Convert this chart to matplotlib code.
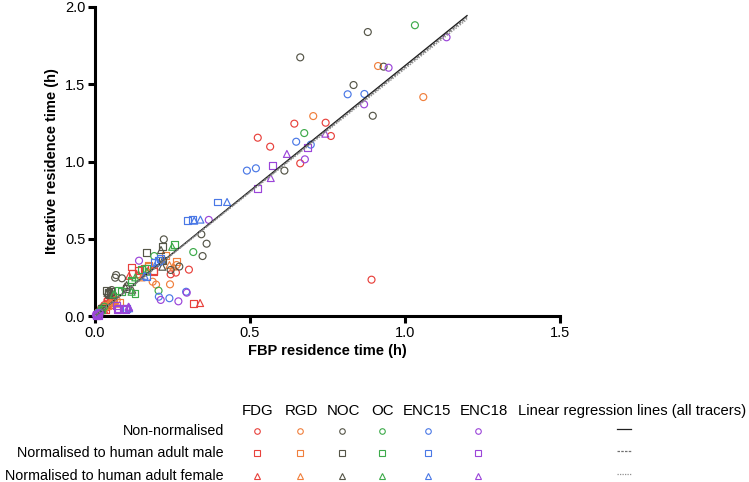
import matplotlib
matplotlib.use('Agg')
import matplotlib.pyplot as plt
import numpy as np

plt.rcParams['font.family'] = ['Liberation Sans', 'DejaVu Sans']

tracers = ['FDG', 'RGD', 'NOC', 'OC', 'ENC15', 'ENC18']
colors = ['#E8413C', '#F07F3C', '#555548', '#3DAA4A', '#4A78E6', '#9B45D9']
row_labels = ['Non-normalised', 'Normalised to human adult male', 'Normalised to human adult female']
markers = ['o', 's', '^']

# (FBP, iterative) residence times in h, per tracer and normalisation
fdg_non = [(0.525, 1.154), (0.565, 1.096), (0.643, 1.245), (0.744, 1.251), (0.761, 1.165), (0.662, 0.988),
           (0.892, 0.235), (0.303, 0.300), (0.261, 0.281), (0.244, 0.270), (0.04, 0.10), (0.03, 0.07),
           (0.02, 0.05), (0.05, 0.12), (0.01, 0.02), (0.025, 0.035), (0.045, 0.075)]
fdg_male = [(0.318, 0.082), (0.190, 0.287), (0.140, 0.293), (0.120, 0.276), (0.118, 0.317), (0.161, 0.308),
            (0.188, 0.293), (0.039, 0.091), (0.03, 0.06), (0.02, 0.04), (0.06, 0.11), (0.01, 0.02),
            (0.05, 0.085), (0.035, 0.045)]
fdg_female = [(0.339, 0.084), (0.043, 0.093), (0.035, 0.08), (0.11, 0.26), (0.14, 0.27), (0.17, 0.29),
              (0.02, 0.05), (0.06, 0.12), (0.03, 0.04), (0.055, 0.07)]

rgd_non = [(0.913, 1.618), (1.059, 1.417), (0.704, 1.294), (0.186, 0.222), (0.197, 0.203), (0.242, 0.205),
           (0.263, 0.330), (0.07, 0.104), (0.05, 0.08), (0.03, 0.05), (0.01, 0.02), (0.015, 0.03)]
rgd_male = [(0.263, 0.352), (0.228, 0.393), (0.174, 0.326), (0.172, 0.319), (0.06, 0.10), (0.04, 0.07),
            (0.02, 0.04), (0.08, 0.09)]
rgd_female = [(0.253, 0.320), (0.24, 0.33), (0.05, 0.09), (0.03, 0.06), (0.15, 0.25), (0.07, 0.08)]

noc_non = [(0.880, 1.838), (0.662, 1.674), (0.931, 1.614), (0.834, 1.495), (0.896, 1.296), (0.611, 0.941),
           (0.343, 0.529), (0.360, 0.468), (0.347, 0.388), (0.222, 0.496), (0.272, 0.320), (0.244, 0.298),
           (0.068, 0.265), (0.065, 0.248), (0.087, 0.244), (0.054, 0.168), (0.059, 0.136), (0.02, 0.04)]
noc_male = [(0.165, 0.412), (0.217, 0.451), (0.219, 0.362), (0.038, 0.164), (0.042, 0.148), (0.05, 0.16),
            (0.10, 0.18), (0.02, 0.05), (0.045, 0.155)]
noc_female = [(0.213, 0.427), (0.217, 0.319), (0.219, 0.36), (0.048, 0.136), (0.097, 0.19), (0.102, 0.200),
              (0.12, 0.17), (0.02, 0.04), (0.04, 0.15)]

oc_non = [(1.032, 1.882), (0.675, 1.184), (0.317, 0.414), (0.191, 0.388), (0.205, 0.164), (0.03, 0.06),
          (0.01, 0.02)]
oc_male = [(0.255, 0.464), (0.150, 0.298), (0.167, 0.308), (0.118, 0.233), (0.129, 0.147), (0.075, 0.168),
           (0.118, 0.222), (0.02, 0.04), (0.085, 0.16)]
oc_female = [(0.249, 0.448), (0.167, 0.287), (0.118, 0.157), (0.06, 0.14), (0.01, 0.02), (0.13, 0.25),
             (0.015, 0.03)]

enc15_non = [(0.815, 1.435), (0.869, 1.437), (0.649, 1.128), (0.696, 1.109), (0.490, 0.941), (0.519, 0.956),
             (0.294, 0.157), (0.206, 0.125), (0.240, 0.115), (0.01, 0.02)]
enc15_male = [(0.394, 0.738), (0.297, 0.617), (0.313, 0.626), (0.204, 0.358), (0.191, 0.345), (0.102, 0.050),
              (0.167, 0.254), (0.21, 0.37)]
enc15_female = [(0.426, 0.738), (0.320, 0.617), (0.340, 0.624), (0.2, 0.35), (0.11, 0.05), (0.16, 0.26)]

enc18_non = [(1.134, 1.804), (0.947, 1.607), (0.868, 1.370), (0.677, 1.014), (0.367, 0.622), (0.142, 0.358),
             (0.296, 0.151), (0.212, 0.104), (0.269, 0.095), (0.005, 0.005), (0.01, 0.01), (0.015, 0.02),
             (0.003, 0.008), (0.008, 0.004)]
enc18_male = [(0.686, 1.090), (0.572, 0.973), (0.525, 0.828), (0.075, 0.050), (0.091, 0.050), (0.070, 0.071),
              (0.073, 0.043), (0.097, 0.043), (0.005, 0.005), (0.01, 0.012), (0.004, 0.01), (0.012, 0.006)]
enc18_female = [(0.743, 1.180), (0.619, 1.049), (0.567, 0.893), (0.108, 0.060), (0.110, 0.056),
                (0.005, 0.006), (0.012, 0.015), (0.007, 0.011)]

groups = [[fdg_non, fdg_male, fdg_female],
          [rgd_non, rgd_male, rgd_female],
          [noc_non, noc_male, noc_female],
          [oc_non, oc_male, oc_female],
          [enc15_non, enc15_male, enc15_female],
          [enc18_non, enc18_male, enc18_female]]

# regression lines (slope through origin), solid / dashed / dotted
reg_slopes = [1.62, 1.61, 1.60]
reg_styles = ['-', (0, (2, 1)), (0, (1, 1))]
reg_colors = ['#202020', '#707070', '#909090']
reg_xmax = 1.2

fig = plt.figure(figsize=(7.49, 4.82), dpi=100)
ax = fig.add_axes([95 / 749, 1 - 316 / 482, 465 / 749, 309 / 482])

for ti, tr in enumerate(groups):
    for ni, pts in enumerate(tr):
        pts = np.array(pts)
        ax.scatter(pts[:, 0], pts[:, 1], s=25, marker=markers[ni], facecolors='none',
                   edgecolors=colors[ti], linewidths=0.85, zorder=3, clip_on=False)

xr = np.array([0, reg_xmax])
for slope, ls, c in zip(reg_slopes, reg_styles, reg_colors):
    ax.plot(xr, slope * xr, linestyle=ls, color=c, linewidth=1.0, zorder=4)

ax.set_xlim(0, 1.5)
ax.set_ylim(0, 2.0)
ax.set_xticks([0, 0.5, 1.0, 1.5])
ax.set_yticks([0, 0.5, 1.0, 1.5, 2.0])
ax.set_xticklabels(['0.0', '0.5', '1.0', '1.5'])
ax.set_yticklabels(['0.0', '0.5', '1.0', '1.5', '2.0'])
for s in ['top', 'right']:
    ax.spines[s].set_visible(False)
for s in ['left', 'bottom']:
    ax.spines[s].set_linewidth(2.2)
ax.tick_params(width=2.2, length=5, labelsize=10.5, pad=2)
ax.set_xlabel('FBP residence time (h)', fontsize=10.5, fontweight='bold', labelpad=3)
ax.set_ylabel('Iterative residence time (h)', fontsize=10.5, fontweight='bold', labelpad=4)

# legend table below the plot, in pixel coordinates
lax = fig.add_axes([0, 0, 1, 1], facecolor='none')
lax.set_xlim(0, 749)
lax.set_ylim(482, 0)
lax.axis('off')

col_x = [257, 300, 342, 382, 428, 478]
head_x = [258, 301, 343, 382, 427, 484]
row_y = [431, 453, 476]
for x, t in zip(head_x, tracers):
    lax.text(x, 411, t, ha='center', va='center', fontsize=10.8)
lax.text(518, 411, 'Linear regression lines (all tracers)', ha='left', va='center', fontsize=10.6)
for y, lab in zip(row_y, row_labels):
    lax.text(224, y, lab, ha='right', va='center', fontsize=10.3)
for ti, x in enumerate(col_x):
    for ni, y in enumerate(row_y):
        lax.plot(x, y, marker=markers[ni], ms=4, mfc='none', mec=colors[ti], mew=0.8)
for y, ls, c in zip(row_y, reg_styles, reg_colors):
    lax.plot([617, 631], [y - 2, y - 2], linestyle=ls, color=c, linewidth=0.9)

fig.savefig('out.png', dpi=100)
